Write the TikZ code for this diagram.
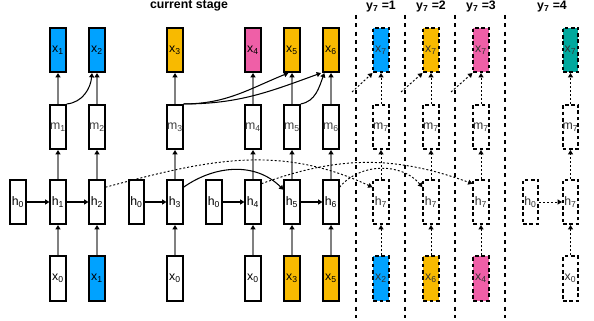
\documentclass[tikz,border=0pt]{standalone}
\usepackage{fontspec}
\setmainfont{Liberation Sans}
\usetikzlibrary{arrows.meta}

\definecolor{cblue}{HTML}{00A2FF}
\definecolor{cyellow}{HTML}{F8BA00}
\definecolor{cpink}{HTML}{EF5FA7}
\definecolor{cteal}{HTML}{00A89D}
\definecolor{cgray}{HTML}{808080}

\newcommand{\lbl}[2]{#1\textsubscript{#2}}

\tikzset{
  cellbox/.style={draw=black, line width=1.5pt, fill=white, minimum width=0.46cm,
    minimum height=1.33cm, inner sep=0pt, font=\fontsize{10.5}{12}\selectfont, text=black},
  mbox/.style={cellbox, text=black!75},
  dcellbox/.style={cellbox, dash pattern=on 1.1mm off 0.8mm, text=black!80},
  arrtip/.style={-{Triangle[length=1.3mm,width=1.5mm,color=black]}},
  gline/.style={arrtip, draw=cgray, line width=1.2pt},
  hline/.style={arrtip, draw=black, line width=0.9pt},
  dline/.style={arrtip, draw=black, line width=0.8pt, dash pattern=on 0.6mm off 0.6mm},
  seprule/.style={draw=black, line width=1.6pt, dash pattern=on 1.2mm off 1.3mm},
  stagehead/.style={anchor=base, font=\bfseries\fontsize{10.5}{12}\selectfont},
}

\begin{document}
\begin{tikzpicture}[x=0.03cm, y=-0.03cm]
  \useasboundingbox (0,0) rectangle (594,321);

  % headings
  \node[stagehead] (tcur) at (189,9) {current stage};
  \node[stagehead] (ty1) at (381,10) {y\textsubscript{7} =1};
  \node[stagehead] (ty2) at (431,10) {y\textsubscript{7} =2};
  \node[stagehead] (ty3) at (481,10) {y\textsubscript{7} =3};
  \node[stagehead] (ty4) at (552,10) {y\textsubscript{7} =4};

  % separators between the candidates
  \draw[seprule] (356,15) -- (356,318);
  \draw[seprule] (405,15) -- (405,318);
  \draw[seprule] (455,15) -- (455,318);
  \draw[seprule] (505,15) -- (505,318);

  % outputs
  \node[cellbox, fill=cblue] (xt1) at (58,50) {\lbl{x}{1}};
  \node[cellbox, fill=cblue] (xt2) at (97,50) {\lbl{x}{2}};
  \node[cellbox, fill=cyellow] (xt3) at (175,50) {\lbl{x}{3}};
  \node[cellbox, fill=cpink] (xt4) at (253,50) {\lbl{x}{4}};
  \node[cellbox, fill=cyellow] (xt5) at (292,50) {\lbl{x}{5}};
  \node[cellbox, fill=cyellow] (xt6) at (331,50) {\lbl{x}{6}};
  \node[dcellbox, fill=cblue] (xt7a) at (381,50) {\lbl{x}{7}};
  \node[dcellbox, fill=cyellow] (xt7b) at (431,50) {\lbl{x}{7}};
  \node[dcellbox, fill=cpink] (xt7c) at (481,50) {\lbl{x}{7}};
  \node[dcellbox, fill=cteal] (xt7d) at (570.5,50) {\lbl{x}{7}};

  % memory
  \node[mbox] (m1) at (58,127) {\lbl{m}{1}};
  \node[mbox] (m2) at (97,127) {\lbl{m}{2}};
  \node[mbox] (m3) at (175,127) {\lbl{m}{3}};
  \node[mbox] (m4) at (253,127) {\lbl{m}{4}};
  \node[mbox] (m5) at (292,127) {\lbl{m}{5}};
  \node[mbox] (m6) at (331,127) {\lbl{m}{6}};
  \node[dcellbox] (m7a) at (381,127) {\lbl{m}{7}};
  \node[dcellbox] (m7b) at (431,127) {\lbl{m}{7}};
  \node[dcellbox] (m7c) at (481,127) {\lbl{m}{7}};
  \node[dcellbox] (m7d) at (570.5,127) {\lbl{m}{7}};

  % hidden states
  \node[cellbox] (h0a) at (18,202) {\lbl{h}{0}};
  \node[cellbox] (h1) at (58,202) {\lbl{h}{1}};
  \node[cellbox] (h2) at (97,202) {\lbl{h}{2}};
  \node[cellbox] (h0b) at (136.5,202) {\lbl{h}{0}};
  \node[cellbox] (h3) at (175,202) {\lbl{h}{3}};
  \node[cellbox] (h0c) at (214,202) {\lbl{h}{0}};
  \node[cellbox] (h4) at (253,202) {\lbl{h}{4}};
  \node[cellbox] (h5) at (292,202) {\lbl{h}{5}};
  \node[cellbox] (h6) at (331,202) {\lbl{h}{6}};
  \node[dcellbox] (h7a) at (381,202) {\lbl{h}{7}};
  \node[dcellbox] (h7b) at (431,202) {\lbl{h}{7}};
  \node[dcellbox] (h7c) at (481,202) {\lbl{h}{7}};
  \node[dcellbox] (h0d) at (530.5,202) {\lbl{h}{0}};
  \node[dcellbox] (h7d) at (570.5,202) {\lbl{h}{7}};

  % inputs
  \node[cellbox] (xb1) at (58,278.5) {\lbl{x}{0}};
  \node[cellbox, fill=cblue] (xb2) at (97,278.5) {\lbl{x}{1}};
  \node[cellbox] (xb3) at (175,278.5) {\lbl{x}{0}};
  \node[cellbox] (xb4) at (253,278.5) {\lbl{x}{0}};
  \node[cellbox, fill=cyellow] (xb5) at (292,278.5) {\lbl{x}{3}};
  \node[cellbox, fill=cyellow] (xb6) at (331,278.5) {\lbl{x}{5}};
  \node[dcellbox, fill=cblue] (xb7a) at (381,278.5) {\lbl{x}{2}};
  \node[dcellbox, fill=cyellow] (xb7b) at (431,278.5) {\lbl{x}{6}};
  \node[dcellbox, fill=cpink] (xb7c) at (481,278.5) {\lbl{x}{4}};
  \node[dcellbox] (xb7d) at (570.5,278.5) {\lbl{x}{0}};

  % columns
  \foreach \c in {1,...,6} {
    \draw[gline] (xb\c) -- (h\c);
    \draw[gline] (h\c) -- (m\c);
    \draw[gline] (m\c) -- (xt\c);
  }
  \foreach \c in {a,b,c,d} {
    \draw[dline] (xb7\c) -- (h7\c);
    \draw[dline] (h7\c) -- (m7\c);
    \draw[dline] (m7\c) -- (xt7\c);
  }

  % recurrence
  \draw[hline] (h0a) -- (h1);
  \draw[hline] (h1) -- (h2);
  \draw[hline] (h0b) -- (h3);
  \draw[hline] (h0c) -- (h4);
  \draw[hline] (h5) -- (h6);
  \draw[hline] (h3.60) to[out=35,in=135] (h5.125);
  \draw[dline] (h0d) -- (h7d);

  % memory to output
  \draw[hline] (m1.north east) to[out=5,in=-95] ([xshift=-1.5mm]xt2.south);
  \draw[hline] (m3.north east) to[out=0,in=-158] ([xshift=-1.1mm]xt5.south);
  \draw[hline] (m3.north east) to[out=0,in=-160] ([xshift=-3mm]xt6.south);
  \draw[hline] (m5.north east) to[out=10,in=-110] ([xshift=-2mm]xt6.south);

  % candidate links
  \draw[dline] (h2.60) to[out=15,in=155] (h7a.120);
  \draw[dline] (h6.60) to[out=50,in=130] (h7b.120);
  \draw[dline] (h4.65) to[out=20,in=160] (h7c.115);
  \coordinate (sa) at (352,92);
  \coordinate (sb) at (401,92);
  \coordinate (sc) at (451,92);
  \draw[dline] (sa) -- (xt7a.south west);
  \draw[dline] (sb) -- (xt7b.south west);
  \draw[dline] (sc) -- (xt7c.south west);
\end{tikzpicture}
\end{document}
